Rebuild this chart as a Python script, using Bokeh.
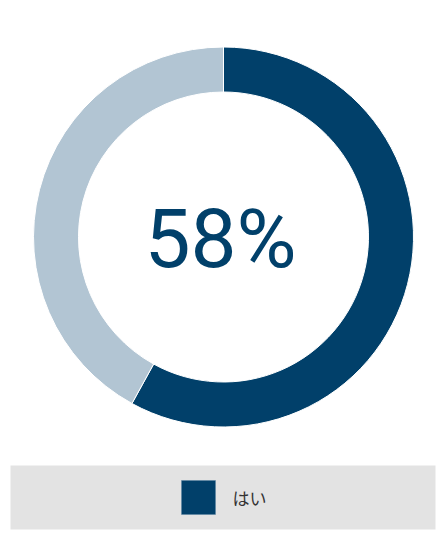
import numpy as np
from bokeh.plotting import figure
from bokeh.models import Range1d, ColumnDataSource
from bokeh.core.properties import value
from bokeh.embed import file_html
from bokeh.resources import INLINE

labels = ["はい", "いいえ"]
shares = [58, 42]
colors = ["#01406A", "#B2C5D3"]
center_label = "58%"
legend_labels = ["はい"]

W, H = 437, 532
p = figure(width=W, height=H, output_backend="svg", toolbar_location=None,
           x_range=Range1d(0, W), y_range=Range1d(0, H), min_border=0)
p.axis.visible = False
p.grid.visible = False
p.outline_line_color = None
p.background_fill_color = "white"

fr = np.array(shares, dtype=float) / sum(shares)
cum = np.concatenate([[0], np.cumsum(fr)])
start = np.pi / 2 - 2 * np.pi * cum[:-1]
end = np.pi / 2 - 2 * np.pi * cum[1:]
cx, cy = 223, H - 236.5
src = ColumnDataSource(dict(start=start, end=end, color=colors, label=labels))
p.annular_wedge(x=cx, y=cy, inner_radius=145, outer_radius=190,
                start_angle="start", end_angle="end", direction="clock",
                fill_color="color", line_color="white", line_width=1, source=src)

p.text(x=[220], y=[H - 238], text=[center_label],
       text_font=value("Roboto"),
       text_font_size="82px", text_color=colors[0], text_align="center", text_baseline="middle")

# legend box
p.quad(left=[10], right=[435], bottom=[H - 529], top=[H - 465], fill_color="#E3E3E3", line_color=None)
p.quad(left=[181], right=[215], bottom=[H - 514], top=[H - 480], fill_color=colors[0],
       line_color="#5b82a3", line_width=0.5)
p.text(x=[232], y=[H - 497], text=legend_labels, text_font=value("Noto Sans CJK JP"),
       text_font_size="17px", text_color="#333333", text_align="left", text_baseline="middle")

open("out.html", "w").write(file_html(p, INLINE))
